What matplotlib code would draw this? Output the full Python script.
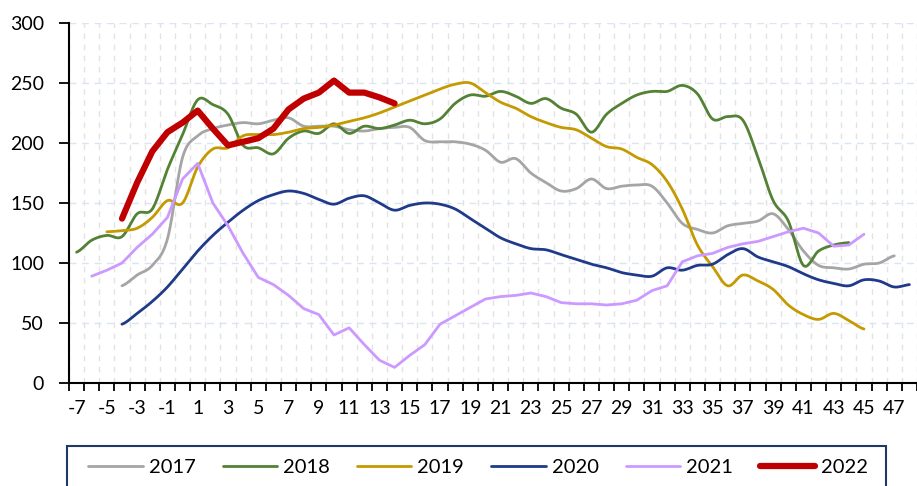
import numpy as np
import matplotlib
matplotlib.use('Agg')
import matplotlib.pyplot as plt
from matplotlib.patches import Rectangle

plt.rcParams['font.family'] = ['Lato', 'DejaVu Sans']

# week index (x category) and values per year
x2017 = list(range(-4, 48))
y2017 = [81, 90, 98, 120, 188, 206, 212, 215, 217, 216,
         219, 221, 214, 214, 214, 211, 210, 212, 213, 213,
         202, 201, 201, 199, 194, 184, 187, 175, 167, 160,
         162, 170, 162, 164, 165, 164, 150, 133, 128, 125,
         131, 133, 135, 141, 128, 110, 98, 96, 95, 99,
         100, 106]

x2018 = list(range(-7, 45))
y2018 = [109, 119, 123, 122, 141, 145, 178, 207, 236, 232,
         224, 198, 196, 191, 204, 210, 208, 216, 208, 214,
         212, 215, 219, 216, 220, 233, 240, 239, 243, 239,
         233, 237, 229, 224, 209, 224, 233, 240, 243, 243,
         248, 241, 220, 222, 219, 188, 152, 135, 98, 110,
         115, 117]

x2019 = list(range(-5, 46))
y2019 = [126, 127, 129, 138, 152, 150, 180, 195, 196, 206,
         207, 207, 209, 212, 213, 215, 218, 221, 225, 230,
         235, 240, 245, 249, 250, 242, 234, 229, 222, 217,
         213, 211, 204, 197, 195, 188, 182, 168, 145, 115,
         97, 81, 90, 85, 78, 65, 57, 53, 58, 52,
         45]

x2020 = list(range(-4, 49))
y2020 = [49, 58, 68, 80, 95, 110, 123, 134, 144, 152,
         157, 160, 158, 153, 149, 154, 156, 150, 144, 148,
         150, 149, 145, 137, 129, 121, 116, 112, 111, 107,
         103, 99, 96, 92, 90, 89, 96, 94, 98, 99,
         107, 112, 105, 101, 97, 91, 86, 83, 81, 86,
         85, 80, 82]

x2021 = list(range(-6, 46))
y2021 = [89, 94, 100, 113, 124, 138, 170, 183, 150, 131,
         108, 88, 82, 73, 62, 57, 40, 46, 32, 19,
         13, 23, 32, 49, 56, 63, 70, 72, 73, 75,
         72, 67, 66, 66, 65, 66, 69, 77, 81, 101,
         106, 108, 113, 116, 118, 122, 126, 129, 125, 114,
         115, 124]

x2022 = list(range(-4, 15))
y2022 = [137, 167, 193, 209, 217, 227, 212, 198, 201, 204,
         212, 228, 237, 242, 252, 242, 242, 238, 233]

label_ticks = list(range(-7, 48, 2))


def smooth(xs, ys, n=16):
    # catmull-rom curve through the points, like excel's smoothed line
    xs = np.asarray(xs, float)
    ys = np.asarray(ys, float)
    px = np.concatenate([[2 * xs[0] - xs[1]], xs, [2 * xs[-1] - xs[-2]]])
    py = np.concatenate([[ys[0]], ys, [ys[-1]]])
    out_x, out_y = [], []
    t = np.linspace(0, 1, n, endpoint=False)
    for i in range(1, len(px) - 2):
        for p, out in ((px, out_x), (py, out_y)):
            p0, p1, p2, p3 = p[i - 1], p[i], p[i + 1], p[i + 2]
            out.extend(0.5 * (2 * p1 + (-p0 + p2) * t
                              + (2 * p0 - 5 * p1 + 4 * p2 - p3) * t ** 2
                              + (-p0 + 3 * p1 - 3 * p2 + p3) * t ** 3))
    out_x.append(xs[-1])
    out_y.append(ys[-1])
    return out_x, out_y


fig = plt.figure(figsize=(9.17, 4.86), dpi=100)
ax = fig.add_axes([69 / 917, 103 / 486, 848 / 917, 360 / 486])

series = [
    ('2017', x2017, y2017, '#A5A5A5', 2.0, True),
    ('2018', x2018, y2018, '#538135', 2.0, True),
    ('2019', x2019, y2019, '#C49A00', 2.0, True),
    ('2020', x2020, y2020, '#1F3A8A', 2.0, True),
    ('2021', x2021, y2021, '#CC99FF', 2.0, False),
    ('2022', x2022, y2022, '#C00000', 4.5, False),
]
for name, xs, ys, col, lw, smo in series:
    if smo:
        sx, sy = smooth(xs, ys)
    else:
        sx, sy = xs, ys
    ax.plot(sx, sy, color=col, lw=lw, label=name,
            solid_capstyle='round', solid_joinstyle='round')

ax.set_xlim(-7.5, -7.5 + 848 / 15.24)
ax.set_ylim(0, 300)

# tick marks between categories, labels on odd weeks
ax.set_xticks(np.arange(-7.5, 49, 1))
ax.set_xticklabels([])
ax.set_xticks(label_ticks, minor=True)
ax.set_xticklabels([str(v) for v in label_ticks], minor=True)
ax.tick_params(axis='x', which='major', direction='out', length=6,
               width=1.3, color='black')
ax.tick_params(axis='x', which='minor', length=0, pad=12, labelsize=14)
ax.set_yticks(range(0, 301, 50))
ax.tick_params(axis='y', direction='out', length=7, width=1.3,
               pad=11, labelsize=14)

ax.grid(axis='x', which='major', color='#E3E3E3', ls=(0, (4, 4)), lw=1)
ax.grid(axis='y', color='#DAE5F3', ls=(0, (5, 4)), lw=1)
ax.set_axisbelow(True)

for s in ['top', 'right']:
    ax.spines[s].set_visible(False)
for s in ['left', 'bottom']:
    ax.spines[s].set_linewidth(1.5)

# legend box runs off the bottom of the picture
fig.patches.append(Rectangle((67 / 917, -0.1), 819 / 917, 0.1 + 40 / 486,
                             transform=fig.transFigure, fill=False,
                             edgecolor='#1F3864', lw=1.5))
fig.legend(loc='center', bbox_to_anchor=(478 / 917, 1 - 467 / 486),
           ncol=6, frameon=False, fontsize=14.5, handlelength=2.7,
           handletextpad=0.3, columnspacing=1.35)

fig.savefig('out.png', dpi=100)
